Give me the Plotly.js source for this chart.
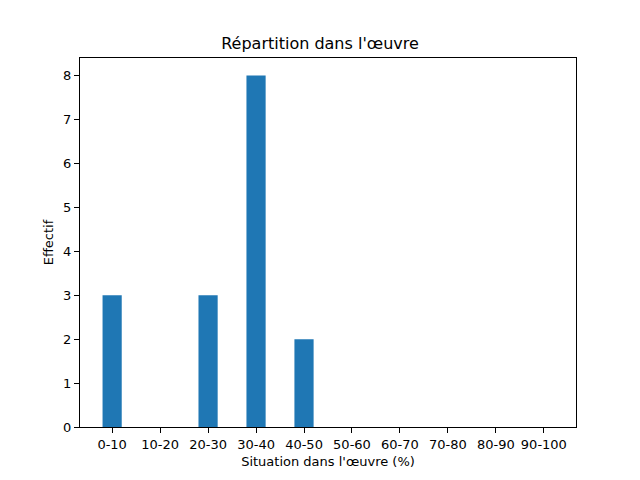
<!DOCTYPE html>
<html>
<head>
<meta charset="utf-8">
<script src="https://cdn.plot.ly/plotly-3.0.1.min.js"></script>
<style>html,body{margin:0;padding:0;background:#fff;}</style>
</head>
<body>
<div id="chart" style="width:640px;height:480px;"></div>
<script>
const categories = ["0-10","10-20","20-30","30-40","40-50","50-60","60-70","70-80","80-90","90-100"];
const counts = [3, 0, 3, 8, 2, 0, 0, 0, 0, 0];
const positions = categories.map((c, i) => i);
const yTicks = [0,1,2,3,4,5,6,7,8];

const font = {family: "DejaVu Sans", size: 13, color: "#000"};

const trace = {
  type: "bar",
  x: positions,
  y: counts,
  width: 0.4,
  marker: {color: "#1f77b4", line: {width: 0}},
  hoverinfo: "skip"
};

const layout = {
  width: 640, height: 480,
  paper_bgcolor: "#fff", plot_bgcolor: "#fff",
  margin: {l: 80, r: 64, t: 58, b: 53, pad: 0},
  font: font,
  showlegend: false,
  title: {
    text: "Répartition dans l'œuvre",
    font: {family: "DejaVu Sans", size: 16, color: "#000"},
    x: 0.5, xanchor: "center",
    y: 1 - 43/480, yanchor: "middle", yref: "container"
  },
  xaxis: {
    range: [-0.67, 9.67],
    tickmode: "array",
    tickvals: positions,
    ticktext: categories,
    ticks: "outside", ticklen: 5, tickwidth: 1, tickcolor: "#000",
    showline: true, linecolor: "#000", linewidth: 1, mirror: true,
    showgrid: false, zeroline: false,
    tickfont: font,
    title: {text: "Situation dans l'œuvre (%)", font: font, standoff: 6}
  },
  yaxis: {
    range: [0, 8.4],
    tickmode: "array",
    tickvals: yTicks,
    ticktext: yTicks.map(String),
    ticks: "outside", ticklen: 5, tickwidth: 1, tickcolor: "#000",
    showline: true, linecolor: "#000", linewidth: 1, mirror: true,
    showgrid: false, zeroline: false,
    tickfont: font,
    title: {text: "Effectif", font: font, standoff: 6}
  }
};

Plotly.newPlot("chart", [trace], layout, {displayModeBar: false, staticPlot: true});
</script>
</body>
</html>
